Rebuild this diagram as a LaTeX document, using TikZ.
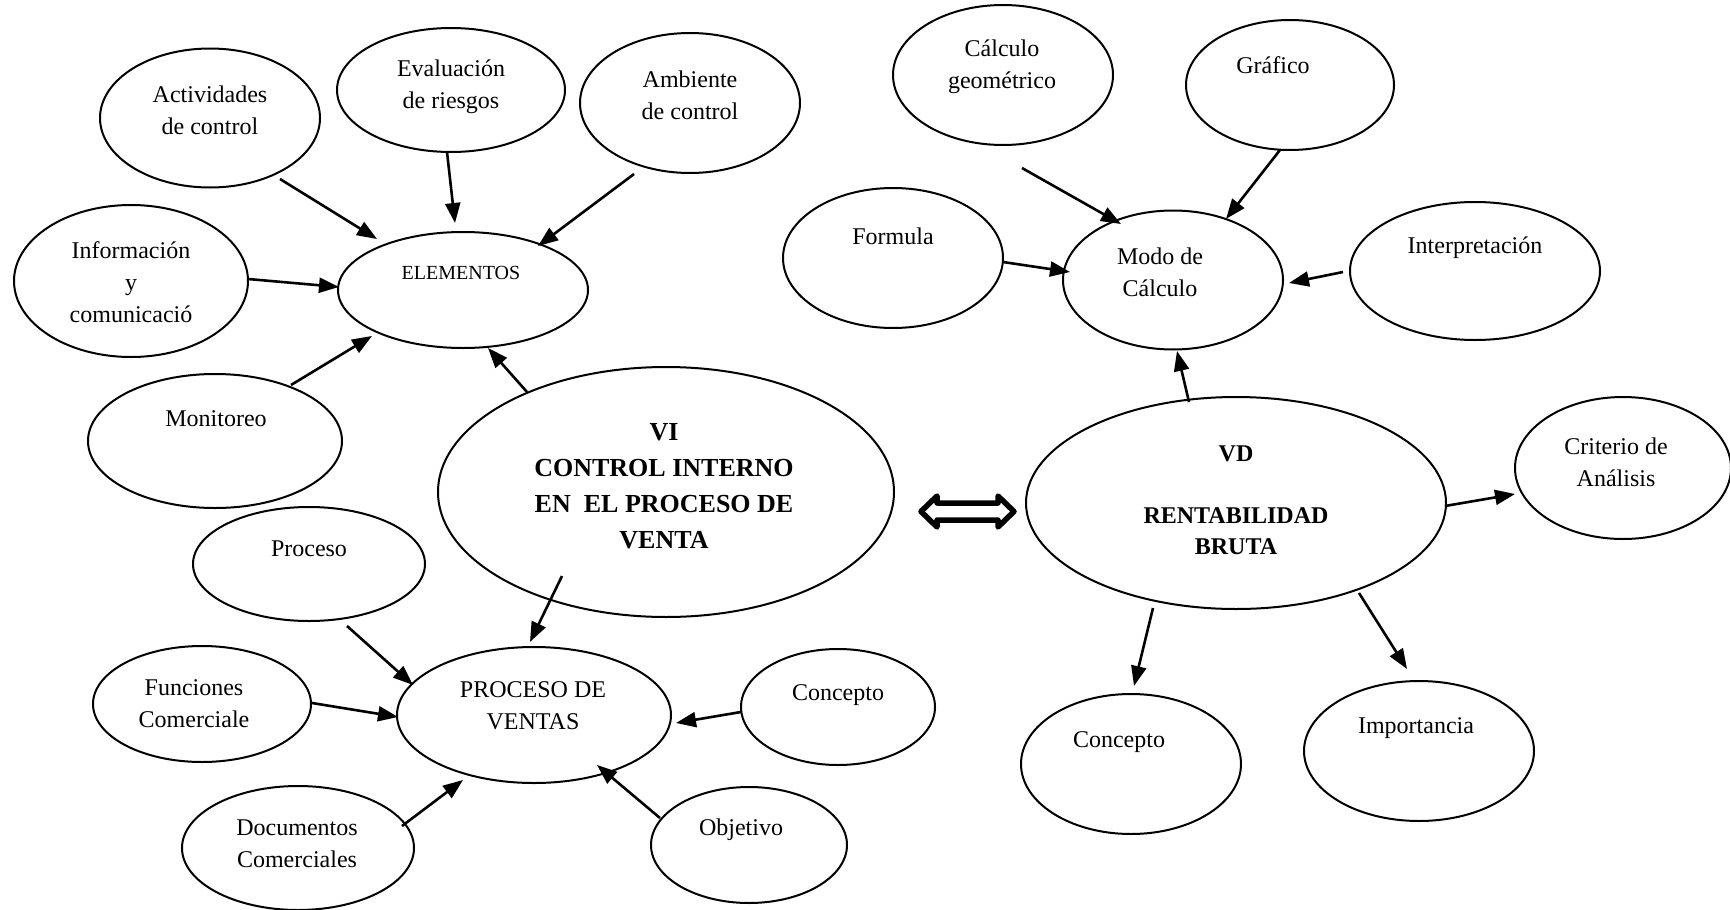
\documentclass[tikz,border=0pt]{standalone}
\usepackage{fontspec}
\setmainfont{Liberation Serif}
\usetikzlibrary{calc,arrows.meta,shapes.geometric}

\begin{document}
\begin{tikzpicture}[x=1pt,y=-1pt,
  bubble/.style={draw,ellipse,line width=2pt,inner sep=0pt},
  lbl/.style={align=center,inner sep=0pt,font=\fontsize{24}{32}\selectfont},
  arr/.style={line width=2.6pt,-{Triangle[length=20pt,width=15pt]}},
  link/.style={line width=5.5pt,line join=round}
]
\clip (0,0) rectangle (1730,910);

% ---- bubbles: centre, then width and height
\node[bubble,minimum width=220,minimum height=139] (act)  at (210,118) {};
\node[bubble,minimum width=228,minimum height=124] (eva)  at (451,90)  {};
\node[bubble,minimum width=220,minimum height=140] (amb)  at (690,103) {};
\node[bubble,minimum width=234,minimum height=152] (inf)  at (131,281) {};
\node[bubble,minimum width=250,minimum height=116] (elem) at (463,290) {};
\node[bubble,minimum width=254,minimum height=134] (mon)  at (215,441) {};
\node[bubble,minimum width=456,minimum height=250] (vi)   at (666,492) {};
\node[bubble,minimum width=220,minimum height=140] (form) at (893,258) {};
\node[bubble,minimum width=220,minimum height=140] (cgeo) at (1003,75) {};
\node[bubble,minimum width=208,minimum height=130] (graf) at (1290,85) {};
\node[bubble,minimum width=220,minimum height=139] (modo) at (1173,280) {};
\node[bubble,minimum width=250,minimum height=138] (int)  at (1475,271) {};
\node[bubble,minimum width=420,minimum height=212] (vd)   at (1236,503) {};
\node[bubble,minimum width=216,minimum height=142] (crit) at (1623,468) {};
\node[bubble,minimum width=232,minimum height=114] (proc) at (309,564) {};
\node[bubble,minimum width=218,minimum height=116] (func) at (202,704) {};
\node[bubble,minimum width=274,minimum height=136] (pv)   at (534,715) {};
\node[bubble,minimum width=194,minimum height=116] (conA) at (838,707) {};
\node[bubble,minimum width=232,minimum height=124] (doc)  at (298,848) {};
\node[bubble,minimum width=196,minimum height=116] (obj)  at (749,845) {};
\node[bubble,minimum width=220,minimum height=140] (conB) at (1131,764) {};
\node[bubble,minimum width=230,minimum height=140] (imp)  at (1419,751) {};

% ---- texts
\node[lbl] (actT)  at (210,110) {Actividades\\de control};
\node[lbl] (evaT)  at (451,87)  {Evaluación\\de riesgos};
\node[lbl] (ambT)  at (690,95)  {Ambiente\\de control};
\node[lbl] (infT)  at (131,282) {Información\\y\\comunicació};
\node[lbl,font=\fontsize{20}{26}\selectfont] (elemT) at (461,273) {ELEMENTOS};
\node[lbl] (monT)  at (216,419) {Monitoreo};
\node[lbl,font=\fontsize{26}{36}\bfseries\selectfont] (viT) at (664,486)
  {VI\\CONTROL INTERNO\\EN\ \ EL PROCESO DE\\VENTA};
\node[lbl] (formT) at (893,236) {Formula};
\node[lbl] (cgeoT) at (1002,67) {Cálculo\\geométrico};
\node[lbl] (grafT) at (1273,65) {Gráfico};
\node[lbl] (modoT) at (1160,272) {Modo de\\Cálculo};
\node[lbl] (intT)  at (1475,248) {Interpretación};
\node[lbl,font=\fontsize{24}{31}\bfseries\selectfont] (vdT) at (1236,500)
  {VD\\\strut\\RENTABILIDAD\\BRUTA};
\node[lbl] (critT) at (1616,462) {Criterio de\\Análisis};
\node[lbl] (procT) at (309,549) {Proceso};
\node[lbl] (funcT) at (194,704) {Funciones\\Comerciale};
\node[lbl] (pvT)   at (533,706) {PROCESO DE\\VENTAS};
\node[lbl] (conAT) at (838,695) {Concepto};
\node[lbl] (docT)  at (297,844) {Documentos\\Comerciales};
\node[lbl] (objT)  at (741,830) {Objetivo};
\node[lbl] (conBT) at (1119,742) {Concepto};
\node[lbl] (impT)  at (1416,728) {Importancia};

% ---- connectors
\draw[arr] ($(act)+(70,61)$)    -- ($(elem)+(-86,-51)$);
\draw[arr] ($(eva)+(-4,62)$)    -- ($(elem)+(-8,-67)$);
\draw[arr] ($(amb)+(-56,71)$)   -- ($(elem)+(75,-44)$);
\draw[arr] ($(inf)+(117,-2)$)   -- ($(elem)+(-124,-3)$);
\draw[arr] ($(mon)+(76,-56)$)   -- ($(elem)+(-91,46)$);
\draw[arr] ($(vi)+(-139,-100)$) -- ($(elem)+(25,58)$);

\draw[arr] ($(cgeo)+(19,93)$)   -- ($(modo)+(-52,-56)$);
\draw[arr] ($(graf)+(-10,65)$)  -- ($(modo)+(53,-61)$);
\draw[arr] ($(form)+(110,4)$)   -- ($(modo)+(-103,-8)$);
\draw[arr] ($(int)+(-132,1)$)   -- ($(modo)+(116,3)$);
\draw[arr] ($(vd)+(-47,-101)$)  -- ($(modo)+(4,71)$);

\draw[arr] ($(vi)+(-104,84)$)   -- ($(pv)+(-4,-73)$);
\draw[arr] ($(proc)+(38,62)$)   -- ($(pv)+(-121,-30)$);
\draw[arr] ($(func)+(110,-1)$)  -- ($(pv)+(-136,2)$);
\draw[arr] ($(conA)+(-97,5)$)   -- ($(pv)+(142,8)$);
\draw[arr] ($(doc)+(104,-22)$)  -- ($(pv)+(-71,65)$);
\draw[arr] ($(obj)+(-89,-27)$)  -- ($(pv)+(63,50)$);

\draw[arr] ($(vd)+(209,3)$)     -- ($(crit)+(-108,26)$);
\draw[arr] ($(vd)+(-83,105)$)   -- ($(conB)+(3,-78)$);
\draw[arr] ($(vd)+(123,90)$)    -- ($(imp)+(-12,-82)$);

% ---- hollow double arrow between the two variables
\coordinate (dl) at (921,511.5);
\coordinate (dr) at (1014,511.5);
\draw[link] (dl) -- ++(16,-15.5) -- ++(0,7) -- ++(61,0) -- ++(0,-7)
  -- (dr) -- ++(-16,15.5) -- ++(0,-7) -- ++(-61,0) -- ++(0,7) -- cycle;
\end{tikzpicture}
\end{document}
